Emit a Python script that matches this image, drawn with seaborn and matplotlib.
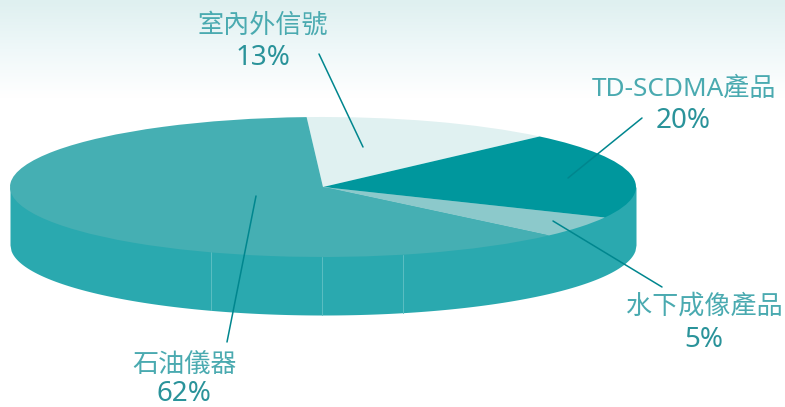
import numpy as np
import matplotlib
matplotlib.use('Agg')
import matplotlib.pyplot as plt
import seaborn as sns

# Data
categories = ['室內外信號', 'TD-SCDMA產品', '水下成像產品', '石油儀器']
shares = [13, 20, 5, 62]
share_labels = ['13%', '20%', '5%', '62%']

sns.set_theme(style='white')
plt.rcParams['font.family'] = ['Noto Sans', 'Noto Sans CJK TC', 'DejaVu Sans']

colors = sns.color_palette(['#E0F1F1', '#00979D', '#8CC9CB', '#45AFB3'])
wall_color = '#2AA9AF'
name_color = '#4AAAB0'
pct_color = '#2A939A'
line_color = '#00868E'

W, H = 785, 407
fig = plt.figure(figsize=(W / 100, H / 100), dpi=100, facecolor='white')

# background and pie side wall, in pixel coordinates
bg = fig.add_axes([0, 0, 1, 1])
bg.axis('off')
fade = sns.blend_palette(['#DFF0F0', '#EFF8F9', '#FFFFFF'], as_cmap=True)
bg.imshow(np.linspace(0, 1, 100).reshape(-1, 1), extent=[0, W, 98, 0],
          cmap=fade, aspect='auto', zorder=0)
bg.set_xlim(0, W)
bg.set_ylim(H, 0)

cx, cy, rx, ry, depth = 323, 187, 313, 70, 58
x = np.linspace(cx - rx, cx + rx, 600)
rim = cy + ry * np.sqrt(1 - ((x - cx) / rx) ** 2)
# wall runs up under the top face so no seam shows along the rim
bg.fill_between(x, cy, rim + depth, color=wall_color, lw=0, zorder=1)
for sx in [211, 322, 403]:
    sy = cy + ry * np.sqrt(1 - ((sx - cx) / rx) ** 2)
    bg.plot([sx, sx], [sy, sy + depth], color='#5CBEC2', lw=0.7, zorder=2)

# top face: a pie stretched into an ellipse
top = fig.add_axes([(cx - rx) / W, 1 - (cy + ry) / H, 2 * rx / W, 2 * ry / H])
top.patch.set_alpha(0)
top.pie(shares, colors=colors, startangle=93, counterclock=False, radius=1,
        wedgeprops={'linewidth': 0, 'edgecolor': 'none'})
top.set_aspect('auto')
top.set_xlim(-1, 1)
top.set_ylim(-1, 1)

# labels and leader lines
over = fig.add_axes([0, 0, 1, 1])
over.patch.set_alpha(0)
over.set_xlim(0, W)
over.set_ylim(H, 0)
over.axis('off')

name_pos = [(263, 26), (684, 89), (704, 307), (185, 366)]
pct_baseline = [(263, 65), (683, 128), (704, 347), (184, 401)]
leaders = [((319, 54), (363, 147)), ((642, 118), (568, 178)),
           ((662, 287), (553, 221)), ((227, 342), (256, 196))]

for name, pct, np_, pp, seg in zip(categories, share_labels, name_pos, pct_baseline, leaders):
    over.text(np_[0], np_[1], name, color=name_color, fontsize=18.8, ha='center', va='center')
    over.text(pp[0], pp[1], pct, color=pct_color, fontsize=20, ha='center', va='baseline',
              family='Noto Sans')
    over.plot([seg[0][0], seg[1][0]], [seg[0][1], seg[1][1]], color=line_color, lw=1.1)

fig.savefig('out.png', dpi=100)
